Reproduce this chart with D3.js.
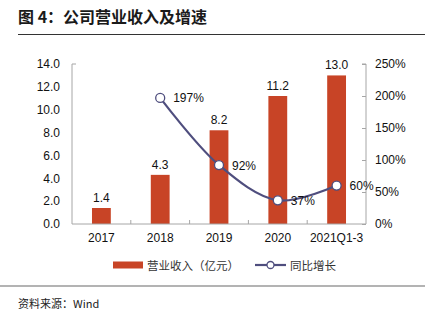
<!DOCTYPE html>
<html>
<head>
<meta charset="utf-8">
<script src="https://cdn.jsdelivr.net/npm/d3@7"></script>
<style>
  body { margin: 0; background: #fff; }
  svg { display: block; }
  text { font-family: "Liberation Sans", Arial, "Noto Sans CJK SC", sans-serif; }
  .cjk { font-family: "Noto Sans CJK SC", sans-serif; }
</style>
</head>
<body>
<svg id="chart"></svg>
<script>
const categories = ["2017", "2018", "2019", "2020", "2021Q1-3"];
const revenue = [1.4, 4.3, 8.2, 11.2, 13.0];
const growth = [null, 197, 92, 37, 60];
const leftTicks = [0, 2, 4, 6, 8, 10, 12, 14];
const rightTicks = [0, 50, 100, 150, 200, 250];

const w = 425, h = 321;
const plotL = 72, plotR = 366, plotT = 64, plotB = 224;
const barColor = "#c84426";
const lineColor = "#4f4e7e";
const axisColor = "#a6a6a6";

const svg = d3.select("#chart").attr("width", w).attr("height", h);

// title and rules
svg.append("text")
  .attr("class", "cjk")
  .attr("x", 18).attr("y", 23)
  .attr("font-size", 16).attr("font-weight", "bold")
  .attr("fill", "#1a1a1a")
  .text("图 4：公司营业收入及增速");
svg.append("line")
  .attr("x1", 18).attr("x2", w).attr("y1", 34.5).attr("y2", 34.5)
  .attr("stroke", "#333").attr("stroke-width", 1.2);
svg.append("line")
  .attr("x1", 0).attr("x2", w).attr("y1", 286).attr("y2", 286)
  .attr("stroke", "#9a9a9a").attr("stroke-width", 1.5);
svg.append("text")
  .attr("class", "cjk")
  .attr("x", 18).attr("y", 308)
  .attr("font-size", 11).attr("fill", "#222")
  .text("资料来源：Wind");

const x = d3.scaleBand().domain(categories).range([plotL, plotR]).paddingInner(0.68).paddingOuter(0.34);
const y = d3.scaleLinear().domain([0, 14]).range([plotB, plotT]);
const y2 = d3.scaleLinear().domain([0, 250]).range([plotB, plotT]);

// bars
svg.selectAll("rect.bar")
  .data(revenue)
  .enter().append("rect")
  .attr("class", "bar")
  .attr("x", (d, i) => x(categories[i]))
  .attr("y", d => y(d))
  .attr("width", x.bandwidth())
  .attr("height", d => y(0) - y(d))
  .attr("fill", barColor);

svg.selectAll("text.barlabel")
  .data(revenue)
  .enter().append("text")
  .attr("class", "barlabel")
  .attr("x", (d, i) => x(categories[i]) + x.bandwidth() / 2)
  .attr("y", d => y(d) - 6)
  .attr("text-anchor", "middle")
  .attr("font-size", 12).attr("fill", "#111")
  .text(d => d.toFixed(1));

// axes
const yAxis = svg.append("g")
  .attr("transform", `translate(${plotL},0)`)
  .call(d3.axisLeft(y).tickValues(leftTicks).tickSize(0).tickPadding(12).tickFormat(d3.format(".1f")));
yAxis.select(".domain").attr("stroke", axisColor).attr("d", `M4,${plotT}H0V${plotB}`);
yAxis.selectAll("text").attr("font-size", 12).attr("fill", "#111").attr("font-family", null);

const y2Axis = svg.append("g")
  .attr("transform", `translate(${plotR},0)`)
  .call(d3.axisRight(y2).tickValues(rightTicks).tickSize(-4).tickPadding(9).tickFormat(d => d + "%"));
y2Axis.select(".domain").attr("stroke", axisColor).attr("d", `M-4,${plotT}H0V${plotB}`);
y2Axis.selectAll("line").attr("stroke", axisColor);
y2Axis.selectAll("text").attr("font-size", 12).attr("fill", "#111").attr("font-family", null);

const step = x.step();
const xAxis = svg.append("g")
  .attr("transform", `translate(0,${plotB})`)
  .call(d3.axisBottom(x).tickSize(0).tickPadding(9));
xAxis.select(".domain").attr("stroke", axisColor).attr("d", `M${plotL},0H${plotR}`);
xAxis.selectAll("text").attr("font-size", 12).attr("fill", "#111").attr("font-family", null);
xAxis.selectAll("line.sep")
  .data(categories.slice(1))
  .enter().append("line")
  .attr("class", "sep")
  .attr("x1", d => x(d) - (step - x.bandwidth()) / 2)
  .attr("x2", d => x(d) - (step - x.bandwidth()) / 2)
  .attr("y1", 0).attr("y2", -4)
  .attr("stroke", axisColor);

// growth line
const pts = growth.map((g, i) => ({ c: categories[i], g })).filter(d => d.g !== null);
const line = d3.line()
  .x(d => x(d.c) + x.bandwidth() / 2)
  .y(d => y2(d.g))
  .curve(d3.curveCatmullRom.alpha(0.5));

svg.append("path")
  .datum(pts)
  .attr("fill", "none")
  .attr("stroke", lineColor)
  .attr("stroke-width", 2.2)
  .attr("d", line);

svg.selectAll("circle.pt")
  .data(pts)
  .enter().append("circle")
  .attr("class", "pt")
  .attr("cx", d => x(d.c) + x.bandwidth() / 2)
  .attr("cy", d => y2(d.g))
  .attr("r", 4.5)
  .attr("fill", "#fff")
  .attr("stroke", lineColor)
  .attr("stroke-width", 1.3);

svg.selectAll("text.ptlabel")
  .data(pts)
  .enter().append("text")
  .attr("class", "ptlabel")
  .attr("x", d => x(d.c) + x.bandwidth() / 2 + 13)
  .attr("y", d => y2(d.g) + 4.5)
  .attr("font-size", 12).attr("fill", "#111")
  .text(d => d.g + "%");

// legend
const lg = svg.append("g").attr("transform", "translate(0,265)");
lg.append("rect")
  .attr("x", 113).attr("y", -3.5).attr("width", 30).attr("height", 7)
  .attr("fill", barColor);
lg.append("text")
  .attr("class", "cjk")
  .attr("x", 147).attr("y", 4.5)
  .attr("font-size", 11.5).attr("fill", "#333")
  .text("营业收入（亿元）");
lg.append("line")
  .attr("x1", 255).attr("x2", 286).attr("y1", 0).attr("y2", 0)
  .attr("stroke", lineColor).attr("stroke-width", 2.2);
lg.append("circle")
  .attr("cx", 270.5).attr("cy", 0).attr("r", 3.5)
  .attr("fill", "#fff").attr("stroke", lineColor).attr("stroke-width", 1.3);
lg.append("text")
  .attr("class", "cjk")
  .attr("x", 290).attr("y", 4.5)
  .attr("font-size", 11.5).attr("fill", "#333")
  .text("同比增长");
</script>
</body>
</html>
